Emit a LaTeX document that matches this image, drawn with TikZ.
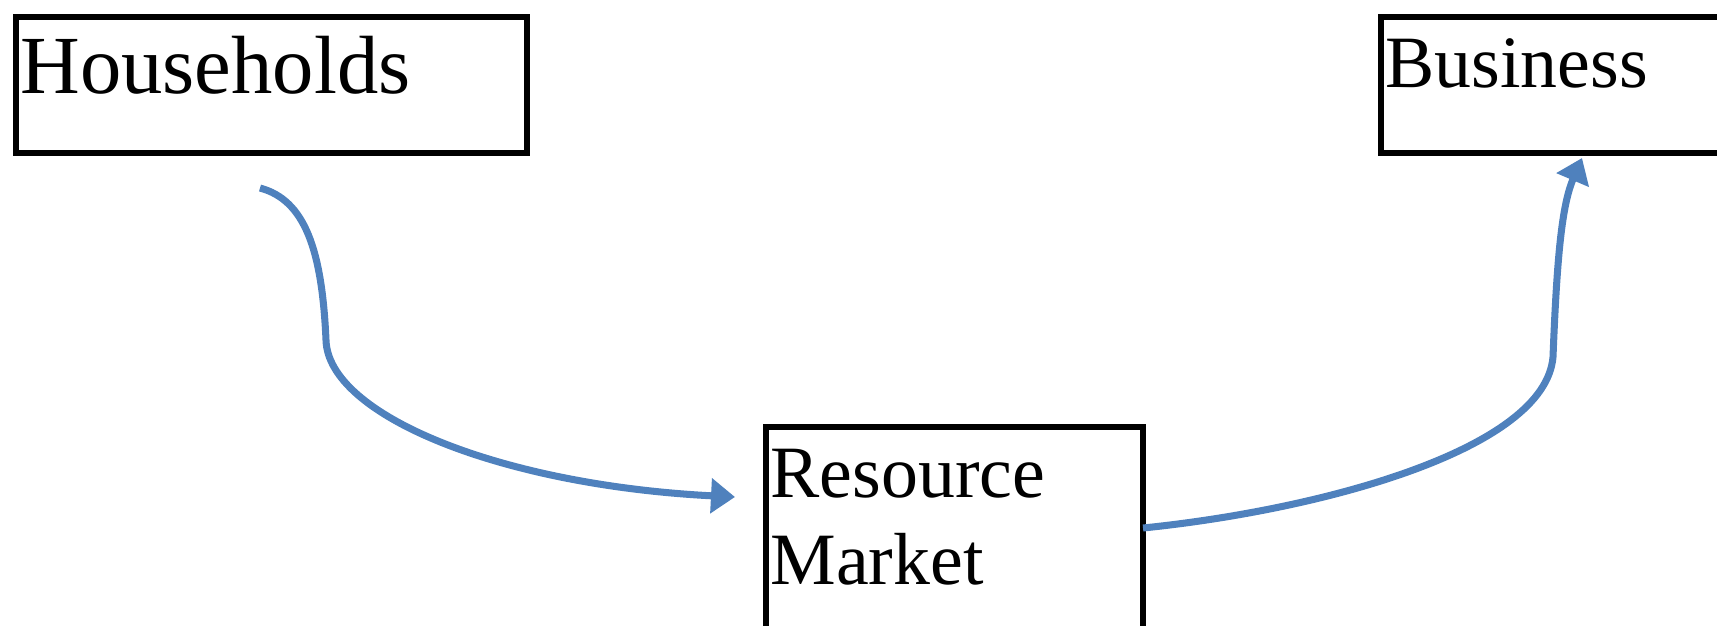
\documentclass[tikz,border=0pt]{standalone}
\usepackage{fontspec}
\setmainfont{Liberation Serif}
\usetikzlibrary{arrows.meta}

\definecolor{flowblue}{RGB}{79,129,189}

\begin{document}
\begin{tikzpicture}[
		box/.style = {draw = black,
					  shape = rectangle,
					  line width = 1.8pt,
					  anchor = north west,
					  outer sep = 0pt,
					  inner xsep = 0.045cm,
					  inner ysep = 0pt,
					  align = left,
					  font = \fontsize{21}{25}\selectfont},
		flow/.style = {flowblue, line width = 2pt,
					   -{Triangle[length = 0.24cm, width = 0.34cm]}}
	]

	\useasboundingbox (0,0) rectangle (17.17,6.25);

	\draw (0.16,6.08) node[box,
					 text width = 5.02cm,
					 text height = 0.76cm,
					 text depth = 0.60cm,
					 font = \fontsize{23.5}{27}\selectfont] (hh) {Households};

	\draw (13.81,6.08) node[box,
					 text width = 4.2cm,
					 text height = 0.70cm,
					 text depth = 0.66cm] (bus) {Business};

	\draw (7.66,1.98) node[box,
					 text width = 3.68cm,
					 text height = 0.70cm,
					 text depth = 1.90cm] (rm) {Resource\\Market};

	\coordinate (hh out) at (2.60,4.37);

	\draw[flow] (hh out) .. controls (3.05,4.25) and (3.22,3.75) .. (3.26,2.85)
			.. controls (3.28,2.10) and (5.00,1.40) .. ([xshift = -0.31cm, yshift = -0.70cm]rm.north west);
	\draw[flow] ([yshift = -1.01cm]rm.north east) .. controls (13.20,1.15) and (15.45,1.75) .. (15.53,2.68)
			.. controls (15.57,3.70) and (15.62,4.20) .. ([xshift = 2.01cm, yshift = -0.05cm]bus.south west);
\end{tikzpicture}
\end{document}
